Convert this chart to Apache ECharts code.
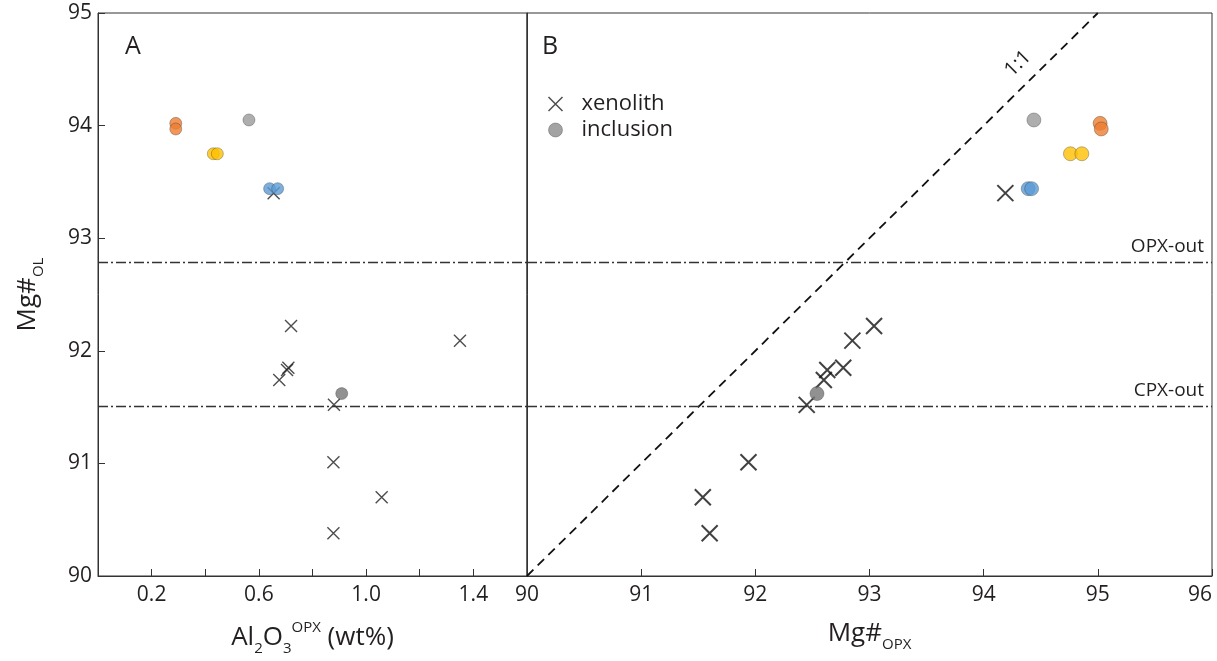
<!DOCTYPE html>
<html>
<head>
<meta charset="utf-8">
<script src="https://cdn.jsdelivr.net/npm/echarts@6/dist/echarts.min.js"></script>
<style>
html,body{margin:0;padding:0;background:#fff;}
#main{width:1217px;height:661px;}
</style>
</head>
<body>
<div id="main"></div>
<script>
// ---------- data ----------
// xenoliths: Al2O3 in OPX (wt%), Mg# OPX, Mg# OL
const xenolithAl2O3 = [0.655, 0.72, 1.35, 0.71, 0.705, 0.676, 0.88, 0.878, 1.058, 0.878];
const xenolithMgOpx = [94.19, 93.04, 92.85, 92.77, 92.63, 92.60, 92.45, 91.94, 91.54, 91.60];
const xenolithMgOl  = [93.40, 92.22, 92.09, 91.85, 91.83, 91.74, 91.52, 91.01, 90.70, 90.38];
// inclusions
const inclusionGroup  = ['orange', 'orange', 'yellow', 'yellow', 'blue', 'blue', 'greyLight', 'greyDark'];
const inclusionAl2O3  = [0.29, 0.29, 0.43, 0.445, 0.64, 0.67, 0.563, 0.909];
const inclusionMgOpx  = [95.02, 95.03, 94.76, 94.86, 94.39, 94.42, 94.44, 92.54];
const inclusionMgOl   = [94.02, 93.97, 93.75, 93.75, 93.44, 93.44, 94.05, 91.62];
// reference lines
const opxOut = 92.79;
const cpxOut = 91.51;
const oneToOne = [[90, 90], [95, 95]];
// axis ranges / ticks
const mgOlRange = [90, 95];
const al2o3Range = [0, 1.6];
const mgOpxRange = [90, 96];

// ---------- styles ----------
const groupColor = {orange: '#ED7D31', yellow: '#FFC000', blue: '#5B9BD5', greyLight: '#9a9a9a', greyDark: '#767676'};
const FONT = 'Open Sans';
const TXT = '#231f20';
const CROSS = 'path://M0,0L10,10M10,0L0,10';
const dashDot = [10, 3, 2, 3];

const chart = echarts.init(document.getElementById('main'), null, {renderer: 'canvas'});

const gridA = {left: 98, top: 13, width: 429, height: 563, show: true, borderColor: '#333', borderWidth: 1, backgroundColor: 'transparent', outerBoundsMode: 'none', containLabel: false};
const gridB = {left: 527, top: 13, width: 685, height: 563, show: true, borderColor: '#333', borderWidth: 1, backgroundColor: 'transparent', outerBoundsMode: 'none', containLabel: false};

const axisCommon = {
  axisLine: {show: true, onZero: false, lineStyle: {color: '#333', width: 1}},
  axisTick: {show: true, inside: true, length: 7, lineStyle: {color: '#333', width: 1}},
  splitLine: {show: false},
  axisLabel: {fontFamily: FONT, fontSize: 21, color: TXT, showMinLabel: true, showMaxLabel: true}
};

const nameRich = {
  m: {fontFamily: FONT, fontSize: 26, color: TXT, lineHeight: 36},
  sub: {fontFamily: FONT, fontSize: 15, color: TXT, lineHeight: 15, verticalAlign: 'bottom'},
  sup: {fontFamily: FONT, fontSize: 15, color: TXT, lineHeight: 15, verticalAlign: 'top'}
};

const markLineFor = (withLabels) => ({
  silent: true,
  symbol: 'none',
  lineStyle: {type: dashDot, color: '#333', width: 1.3},
  label: withLabels ? {
    show: true, position: 'insideEndTop', fontFamily: FONT, fontSize: 19, color: TXT, distance: [8, 6],
    formatter: p => p.name
  } : {show: false},
  data: [{name: 'OPX-out', yAxis: opxOut}, {name: 'CPX-out', yAxis: cpxOut}]
});

const option = {
  animation: false,
  backgroundColor: '#fff',
  grid: [gridA, gridB],
  legend: {
    orient: 'vertical', left: 546, top: 93, padding: 0, itemWidth: 14, itemHeight: 14, itemGap: 4,
    textStyle: {fontFamily: FONT, fontSize: 22, color: TXT, padding: [0, 0, 0, 14]},
    data: [
      {name: 'xenolith', icon: CROSS, itemStyle: {color: 'none', borderColor: '#222', borderWidth: 1.5}},
      {name: 'inclusion', icon: 'circle', itemStyle: {color: '#8c8c8c', borderColor: 'rgba(40,40,40,0.5)', borderWidth: 0.8}}
    ]
  },
  xAxis: [
    Object.assign({}, axisCommon, {
      gridIndex: 0, type: 'value', min: al2o3Range[0], max: al2o3Range[1], interval: 0.2,
      axisLabel: Object.assign({}, axisCommon.axisLabel, {margin: 9, showMaxLabel: false,
        formatter: v => (Math.round(v * 10) % 4 === 2 ? v.toFixed(1) : '')}),
      name: '{m|Al}{sub|2}{m|O}{sub|3}{sup|OPX}{m| (wt%)}', nameLocation: 'middle', nameGap: 44,
      nameTextStyle: {rich: nameRich}
    }),
    Object.assign({}, axisCommon, {
      gridIndex: 1, type: 'value', min: mgOpxRange[0], max: mgOpxRange[1], interval: 1,
      axisLabel: Object.assign({}, axisCommon.axisLabel, {margin: 9, alignMaxLabel: 'right'}),
      name: '{m|Mg#}{sub|OPX}', nameLocation: 'middle', nameGap: 40,
      nameTextStyle: {rich: nameRich}
    })
  ],
  yAxis: [
    Object.assign({}, axisCommon, {
      gridIndex: 0, type: 'value', min: mgOlRange[0], max: mgOlRange[1], interval: 1,
      axisLabel: Object.assign({}, axisCommon.axisLabel, {margin: 6}),
      name: '{m|Mg#}{sub|OL}', nameLocation: 'middle', nameGap: 52, nameRotate: 90,
      nameTextStyle: {rich: nameRich}
    }),
    Object.assign({}, axisCommon, {
      gridIndex: 1, type: 'value', min: mgOlRange[0], max: mgOlRange[1], interval: 1,
      axisTick: {show: false}, axisLabel: {show: false}
    })
  ],
  series: [
    {
      type: 'line', xAxisIndex: 0, yAxisIndex: 0, data: [], silent: true,
      markLine: markLineFor(false)
    },
    {
      type: 'line', xAxisIndex: 1, yAxisIndex: 1, data: oneToOne, symbol: 'none', silent: true,
      lineStyle: {type: [9, 6], color: '#111', width: 1.8}, z: 1,
      markLine: markLineFor(true)
    },
    {
      name: 'xenolith', type: 'scatter', xAxisIndex: 0, yAxisIndex: 0, symbol: CROSS, symbolSize: 12,
      itemStyle: {color: 'none', borderColor: '#222', borderWidth: 1.4}, z: 3,
      data: xenolithAl2O3.map((v, i) => [v, xenolithMgOl[i]])
    },
    {
      name: 'xenolith', type: 'scatter', xAxisIndex: 1, yAxisIndex: 1, symbol: CROSS, symbolSize: 16,
      itemStyle: {color: 'none', borderColor: '#111', borderWidth: 2}, z: 3,
      data: xenolithMgOpx.map((v, i) => [v, xenolithMgOl[i]])
    },
    {
      name: 'inclusion', type: 'scatter', xAxisIndex: 0, yAxisIndex: 0, symbol: 'circle', symbolSize: 12,
      itemStyle: {color: '#8c8c8c', borderColor: 'rgba(40,40,40,0.5)', borderWidth: 0.8}, z: 4,
      data: inclusionAl2O3.map((v, i) => ({value: [v, inclusionMgOl[i]], itemStyle: {color: groupColor[inclusionGroup[i]]}}))
    },
    {
      name: 'inclusion', type: 'scatter', xAxisIndex: 1, yAxisIndex: 1, symbol: 'circle', symbolSize: 14,
      itemStyle: {color: '#8c8c8c', borderColor: 'rgba(40,40,40,0.5)', borderWidth: 0.8}, z: 4,
      data: inclusionMgOpx.map((v, i) => ({value: [v, inclusionMgOl[i]], itemStyle: {color: groupColor[inclusionGroup[i]]}}))
    }
  ]
};
chart.setOption(option);

// panel letters and 1:1 label anchored to the axes
const pA = chart.convertToPixel({gridIndex: 0}, [al2o3Range[0], mgOlRange[1]]);
const pB = chart.convertToPixel({gridIndex: 1}, [mgOpxRange[0], mgOlRange[1]]);
const p11 = chart.convertToPixel({gridIndex: 1}, [94.3, 94.55]);
const pEnd0 = chart.convertToPixel({gridIndex: 1}, oneToOne[0]);
const pEnd1 = chart.convertToPixel({gridIndex: 1}, oneToOne[1]);
const ang = Math.atan2(pEnd0[1] - pEnd1[1], pEnd1[0] - pEnd0[0]);
chart.setOption({
  graphic: [
    {type: 'text', x: pA[0] + 27, y: pA[1] + 21, style: {text: 'A', fontFamily: FONT, fontSize: 25, fill: TXT}},
    {type: 'text', x: pB[0] + 15, y: pB[1] + 21, style: {text: 'B', fontFamily: FONT, fontSize: 25, fill: TXT}},
    {type: 'text', x: p11[0], y: p11[1], rotation: ang, style: {text: '1:1', fontFamily: FONT, fontSize: 20, fill: TXT, align: 'center', verticalAlign: 'middle'}}
  ]
});
</script>
</body>
</html>
